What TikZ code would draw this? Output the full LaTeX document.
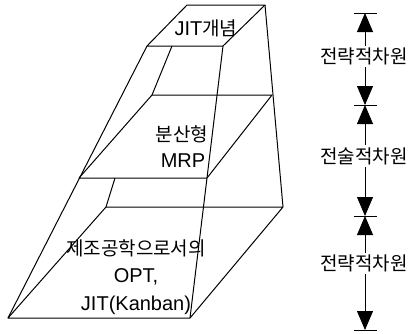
\documentclass[tikz,border=0pt]{standalone}
\usepackage{fontspec}
\setmainfont{Liberation Sans}
\newfontfamily\krfont{Noto Sans CJK KR}
\usetikzlibrary{arrows.meta}
\newcommand\hk[1]{{\krfont\fontsize{19}{22}\selectfont #1}}
\tikzset{
  edge/.style={line width=1pt, line join=round},
  lbl/.style={font=\fontsize{20}{24}\selectfont, inner sep=0pt, anchor=base},
  dim/.style={line width=0.8pt, -{Triangle[length=19pt,width=16pt]}},
  dimlbl/.style={inner sep=2pt},
  tick/.style={line width=1pt}
}
\begin{document}
\begin{tikzpicture}[x=1pt,y=-1pt]
\useasboundingbox (0,0) rectangle (409,333);
% top face
\coordinate (A) at (187,5);
\coordinate (B) at (265,5);
\coordinate (C) at (223,46);
\coordinate (D) at (147,46);
% middle face
\coordinate (E) at (152,95);
\coordinate (F) at (272,95);
\coordinate (G) at (207,178);
\coordinate (H) at (79,178);
% bottom face
\coordinate (I) at (106,207);
\coordinate (J) at (283,207);
\coordinate (K) at (190,318);
\coordinate (L) at (8,318);
\coordinate (P1) at (172,46);
\coordinate (P2) at (115,178);
\draw[edge] (A) -- (B) -- (C) -- (D) -- cycle;
\draw[edge] (E) -- (F) -- (G) -- (H) -- cycle;
\draw[edge] (I) -- (J) -- (K) -- (L) -- cycle;
\draw[edge] (D) -- (L);
\draw[edge] (C) -- (K);
\draw[edge] (B) -- (J);
\draw[edge] (P1) -- (E);
\draw[edge] (P2) -- (I);
% labels
\node[lbl] (t1) at (206,35) {JIT\hk{개념}};
\node[lbl] (t2) at (182,141) {\hk{분산형}};
\node[lbl] (t3) at (183,167) {MRP};
\node[lbl] (t4) at (136,255) {\hk{제조공학으로서의}};
\node[lbl] (t5) at (136,282) {OPT,};
\node[lbl] (t6) at (136,310) {JIT(Kanban)};
% dimension arrows
\coordinate (k1) at (365,13);
\coordinate (k2) at (365,105);
\coordinate (k3) at (365,216);
\coordinate (k4) at (365,330);
\foreach \k in {k1,k2,k3,k4}{
  \draw[tick] ([xshift=-11.5pt]\k) -- ([xshift=11.5pt]\k);
}
\node[dimlbl] (d1) at (364,56.5) {\hk{전략적차원}};
\node[dimlbl] (d2) at (364,156) {\hk{전술적차원}};
\node[dimlbl] (d3) at (364,263.5) {\hk{전략적차원}};
\draw[dim] (d1.north -| k1) -- (k1);
\draw[dim] (d1.south -| k2) -- (k2);
\draw[dim] (d2.north -| k2) -- (k2);
\draw[dim] (d2.south -| k3) -- (k3);
\draw[dim] (d3.north -| k3) -- (k3);
\draw[dim] (d3.south -| k4) -- (k4);
\end{tikzpicture}
\end{document}
